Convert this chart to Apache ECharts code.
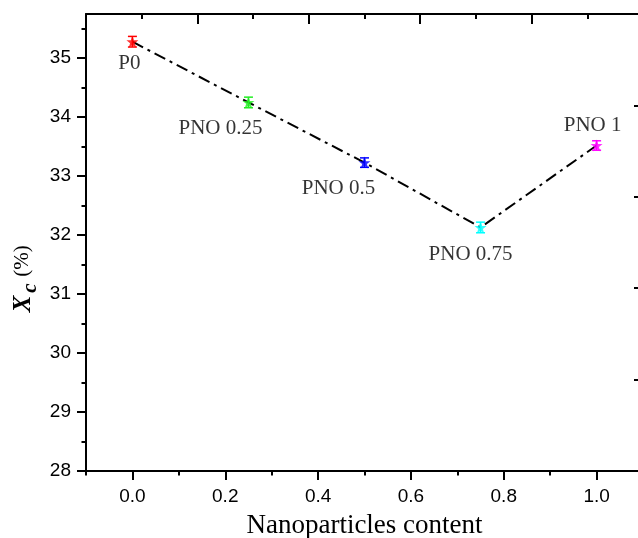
<!DOCTYPE html>
<html>
<head>
<meta charset="utf-8">
<script src="https://cdn.jsdelivr.net/npm/echarts@6/dist/echarts.min.js"></script>
<style>
html,body{margin:0;padding:0;background:#fff;}
#chart{width:638px;height:538px;}
</style>
</head>
<body>
<div id="chart"></div>
<script>
// ---- data ----
var sampleNames = ['P0', 'PNO 0.25', 'PNO 0.5', 'PNO 0.75', 'PNO 1'];
var contentValues = [0, 0.25, 0.5, 0.75, 1.0];
var xcValues = [35.28, 34.25, 33.23, 32.13, 33.52];
var xcErrors = [0.09, 0.09, 0.08, 0.09, 0.08];
var xTickLabels = [0, 0.2, 0.4, 0.6, 0.8, 1.0];
var xMinorTicks = [-0.1, 0.1, 0.3, 0.5, 0.7, 0.9, 1.1];
var yTickLabels = [28, 29, 30, 31, 32, 33, 34, 35];
var yMinorTicks = [28.5, 29.5, 30.5, 31.5, 32.5, 33.5, 34.5, 35.5];

// ---- styles ----
var pointColors = ['#ff0000', '#22ee22', '#0000ff', '#00ffff', '#ff00ff'];
var labelOffsets = [[-3, 22], [-28, 26], [-26, 26], [-10, 27], [-4, -20]];
var SANS = 'Arial, "Liberation Sans", sans-serif';
var SERIF = '"Times New Roman", "Liberation Serif", serif';
var STAR = 'path://M50,2 L61.8,36.2 L97.6,36.2 L68.6,57.6 L79.4,92 L50,71 L20.6,92 L31.4,57.6 L2.4,36.2 L38.2,36.2 Z';

var chart = echarts.init(document.getElementById('chart'), null, {renderer: 'canvas'});

var lineData = contentValues.map(function (x, i) { return [x, xcValues[i]]; });
var scatterData = contentValues.map(function (x, i) {
  return {
    value: [x, xcValues[i]],
    itemStyle: {color: pointColors[i]},
    label: {
      show: true, position: 'inside', offset: labelOffsets[i],
      formatter: sampleNames[i], color: '#000', fontFamily: SERIF, fontSize: 21
    }
  };
});
var errData = contentValues.map(function (x, i) { return [x, xcValues[i], xcErrors[i], i]; });

var axisLineStyle = {color: '#000', width: 2};

var option = {
  backgroundColor: '#fff',
  animation: false,
  grid: {left: 86, top: 14, width: 557, height: 457, outerBoundsMode: 'none', containLabel: false},
  xAxis: [
    {
      type: 'value', position: 'bottom', min: -0.1, max: 1.1,
      axisLine: {show: true, onZero: false, lineStyle: axisLineStyle},
      axisTick: {show: true, inside: false, length: 9, lineStyle: {width: 2, color: '#000'}, customValues: xTickLabels},
      axisLabel: {show: true, customValues: xTickLabels, margin: 16, fontFamily: SANS, fontSize: 19, color: '#000',
        formatter: function (v) { return Number(v).toFixed(1); }},
      splitLine: {show: false},
      name: 'Nanoparticles content', nameLocation: 'middle', nameGap: 41,
      nameTextStyle: {fontFamily: SERIF, fontSize: 27, color: '#000'}
    },
    {
      type: 'value', position: 'bottom', min: -0.1, max: 1.1,
      axisLine: {show: false, onZero: false},
      axisTick: {show: true, inside: false, length: 4.5, lineStyle: {width: 2, color: '#000'}, customValues: xMinorTicks},
      axisLabel: {show: false}, splitLine: {show: false}
    },
    {
      type: 'value', position: 'top', min: 0, max: 5, interval: 1,
      axisLine: {show: true, onZero: false, lineStyle: axisLineStyle},
      axisTick: {show: true, inside: true, length: 10, lineStyle: {width: 2, color: '#000'}},
      minorTick: {show: true, splitNumber: 2, length: 5, lineStyle: {width: 2, color: '#000'}},
      axisLabel: {show: false}, splitLine: {show: false}
    }
  ],
  yAxis: [
    {
      type: 'value', position: 'left', min: 28, max: 35.75,
      axisLine: {show: true, onZero: false, lineStyle: axisLineStyle},
      axisTick: {show: true, inside: false, length: 9, lineStyle: {width: 2, color: '#000'}, customValues: yTickLabels},
      axisLabel: {show: true, customValues: yTickLabels, margin: 15, fontFamily: SANS, fontSize: 19, color: '#000'},
      splitLine: {show: false}
    },
    {
      type: 'value', position: 'left', min: 28, max: 35.75,
      axisLine: {show: false, onZero: false},
      axisTick: {show: true, inside: false, length: 4.5, lineStyle: {width: 2, color: '#000'}, customValues: yMinorTicks},
      axisLabel: {show: false}, splitLine: {show: false}
    },
    {
      type: 'value', position: 'right', min: 0, max: 5, interval: 1,
      axisLine: {show: true, onZero: false, lineStyle: axisLineStyle},
      axisTick: {show: true, inside: true, length: 9, lineStyle: {width: 2, color: '#000'}},
      minorTick: {show: true, splitNumber: 2, length: 4, lineStyle: {width: 2, color: '#000'}},
      axisLabel: {show: false}, splitLine: {show: false}
    }
  ],
  graphic: [
    {type: 'text', x: 22, y: 261, rotation: Math.PI / 2,
      style: {text: '(%)', fontFamily: SERIF, fontSize: 21, fill: '#000', align: 'center', verticalAlign: 'middle'}},
    {type: 'text', x: 31, y: 288, rotation: Math.PI / 2,
      style: {text: 'c', fontFamily: SERIF, fontSize: 21, fontWeight: 'bold', fontStyle: 'italic', fill: '#000', align: 'center', verticalAlign: 'middle'}},
    {type: 'text', x: 24, y: 304, rotation: Math.PI / 2,
      style: {text: 'X', fontFamily: SERIF, fontSize: 25, fontWeight: 'bold', fontStyle: 'italic', fill: '#000', align: 'center', verticalAlign: 'middle'}}
  ],
  series: [
    {
      type: 'line', xAxisIndex: 0, yAxisIndex: 0, data: lineData,
      symbol: 'none', silent: true,
      lineStyle: {color: '#000', width: 2, type: [12, 5, 3, 5]}, z: 2
    },
    {
      type: 'custom', xAxisIndex: 0, yAxisIndex: 0, data: errData, z: 3,
      renderItem: function (params, api) {
        var x = api.value(0), y = api.value(1), e = api.value(2), idx = api.value(3);
        var top = api.coord([x, y + e]);
        var bot = api.coord([x, y - e]);
        var hw = 4.5;
        var st = {stroke: pointColors[idx], lineWidth: 1.5};
        return {
          type: 'group',
          children: [
            {type: 'line', shape: {x1: top[0], y1: top[1], x2: bot[0], y2: bot[1]}, style: st},
            {type: 'line', shape: {x1: top[0] - hw, y1: top[1], x2: top[0] + hw, y2: top[1]}, style: st},
            {type: 'line', shape: {x1: bot[0] - hw, y1: bot[1], x2: bot[0] + hw, y2: bot[1]}, style: st}
          ]
        };
      }
    },
    {
      type: 'scatter', xAxisIndex: 0, yAxisIndex: 0, data: scatterData,
      symbol: STAR, symbolSize: 12, z: 4
    }
  ]
};
chart.setOption(option);
</script>
</body>
</html>
